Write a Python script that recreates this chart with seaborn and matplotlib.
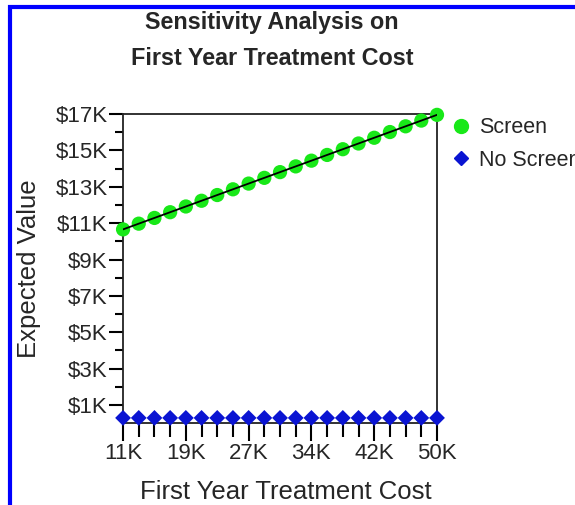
import matplotlib
matplotlib.use("Agg")
import matplotlib.pyplot as plt
import numpy as np
import pandas as pd
import seaborn as sns
from matplotlib.lines import Line2D
from matplotlib.patches import Rectangle
from matplotlib.ticker import FixedLocator, FuncFormatter

# first year treatment cost (thousands)
treat_cost = [11.0, 12.95, 14.9, 16.85, 18.8, 20.75, 22.7, 24.65, 26.6, 28.55, 30.5,
              32.45, 34.4, 36.35, 38.3, 40.25, 42.2, 44.15, 46.1, 48.05, 50.0]
# expected value ($)
screen = [10660, 10975, 11290, 11605, 11920, 12235, 12550, 12865, 13180, 13495, 13810,
          14125, 14440, 14755, 15070, 15385, 15700, 16015, 16330, 16645, 16960]
no_screen = [290, 290, 290, 290, 290, 290, 290, 290, 290, 290, 290,
             290, 290, 290, 290, 290, 290, 290, 290, 290, 290]
y_ticks = [1000, 3000, 5000, 7000, 9000, 11000, 13000, 15000, 17000]

df = pd.DataFrame({"cost": treat_cost, "Screen": screen, "No Screen": no_screen})

sns.set_style("white")
plt.rcParams['font.family'] = ['Liberation Sans', 'DejaVu Sans']

fig = plt.figure(figsize=(5.75, 5.05), dpi=100)
ax = fig.add_axes([0.214, 0.162, 0.546, 0.612])

sns.scatterplot(data=df, x="cost", y="No Screen", ax=ax, marker="D", s=65, color="#0a14d2",
                edgecolor="none", clip_on=False, zorder=3, legend=False)
sns.scatterplot(data=df, x="cost", y="Screen", ax=ax, marker="o", s=105, color="#18e818",
                edgecolor="none", clip_on=False, zorder=3, legend=False)
sns.lineplot(data=df, x="cost", y="Screen", ax=ax, color="black", lw=1.3, zorder=4)

ax.set_xlim(11, 50)
ax.set_ylim(0, 17000)

# x ticks: one at every point, labels on every 4th
ax.xaxis.set_major_locator(FixedLocator(treat_cost[::4]))
ax.xaxis.set_minor_locator(FixedLocator(treat_cost))
ax.xaxis.set_major_formatter(FuncFormatter(lambda v, p: f"{round(v)}K"))
ax.yaxis.set_major_locator(FixedLocator(y_ticks))
ax.yaxis.set_minor_locator(FixedLocator(list(range(2000, 17000, 2000))))
ax.yaxis.set_major_formatter(FuncFormatter(lambda v, p: f"${int(v / 1000)}K"))

ax.tick_params(axis="both", which="both", bottom=True, left=True, direction="out",
               width=1.5, color="black")
ax.tick_params(axis="y", which="major", length=10, labelsize=16, pad=1)
ax.tick_params(axis="y", which="minor", length=6)
ax.tick_params(axis="x", which="major", length=13, labelsize=16, pad=1)
ax.tick_params(axis="x", which="minor", length=10)

for s in ax.spines.values():
    s.set_color("#222222")
    s.set_linewidth(1.3)

ax.set_xlabel("First Year Treatment Cost", fontsize=18.5)
ax.xaxis.label.set_va("center")
ax.xaxis.set_label_coords(0.519, -0.223)
ax.set_ylabel("Expected Value", fontsize=18.5)
ax.yaxis.label.set_va("center")
ax.yaxis.set_label_coords(-0.30, 0.5)

fig.text(0.473, 0.955, "Sensitivity Analysis on", ha="center", va="center",
         fontsize=16.8, fontweight="bold")
fig.text(0.473, 0.884, "First Year Treatment Cost", ha="center", va="center",
         fontsize=16.8, fontweight="bold")

handles = [Line2D([], [], marker="o", ls="none", color="#18e818", markersize=10),
           Line2D([], [], marker="D", ls="none", color="#0a14d2", markersize=7)]
fig.legend(handles, ["Screen", "No Screen"], loc="upper left", bbox_to_anchor=(0.765, 0.785),
           frameon=False, fontsize=15.5, handletextpad=0.2, labelspacing=0.55, handlelength=1.2,
           borderaxespad=0)

# blue frame of the original screenshot
fig.add_artist(Rectangle((10 / 575, -0.05), 1.2, 0.05 + 1 - 7 / 505, transform=fig.transFigure,
                         fill=False, edgecolor="#0000ff", lw=3))

fig.savefig("out.png", dpi=100)
